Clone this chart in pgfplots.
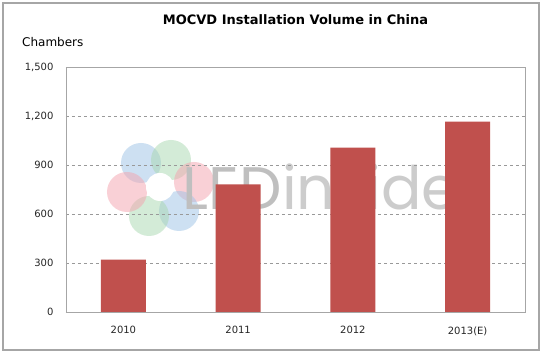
\documentclass[border=0pt]{standalone}
\usepackage{pgfplots}
\pgfplotsset{compat=1.18}
\usepackage{fontspec}
\setmainfont{DejaVu Sans}
\newfontfamily\logofont{Poppins}
\definecolor{barred}{HTML}{C0504D}
\definecolor{frame}{HTML}{A6A6A6}
\definecolor{pblue}{HTML}{9DC3E6}
\definecolor{pgreen}{HTML}{A9D8B0}
\definecolor{pred}{HTML}{F4A3AE}
\begin{document}
\begin{tikzpicture}[x=1pt,y=1pt]
\fill[white] (-66,-41) rectangle (476,312);
\draw[frame, line width=1.5pt] (-63,-38) rectangle (473,309);
% watermark logo
\begin{scope}[opacity=0.5]
\fill[pblue]   (75,149) circle (20);
\fill[pgreen]  (105,152) circle (20);
\fill[pred]    (128,130) circle (20);
\fill[pblue]   (113,101) circle (20);
\fill[pgreen]  (83,96) circle (20);
\fill[pred]    (61,120) circle (20);
\end{scope}
\fill[white] (94,125) circle (14);
\node[font=\logofont\fontsize{60}{60}\selectfont, text=gray!50, inner sep=0pt] at (255,125) {LED\textcolor{gray!40}{inside}};
\begin{axis}[
  at={(0,0)}, anchor=south west,
  scale only axis, width=459pt, height=245pt,
  xmin=-0.5, xmax=3.5, ymin=0, ymax=1500,
  ybar, bar width=45pt,
  xtick={0,1,2,3}, xticklabels={2010,2011,2012,2013(E)},
  ytick={0,300,600,900,1200,1500},
  ymajorgrids, grid style={dashed, gray!80, line width=0.6pt},
  axis line style={frame, line width=0.8pt},
  major tick length=0pt,
  tick label style={font=\fontsize{10}{11}\selectfont, text=black!85},
  /pgf/number format/assume math mode=true,
  /pgf/number format/1000 sep={,},
  yticklabel style={xshift=-9pt},
  xticklabel style={yshift=-11pt},
]
\addplot[fill=barred, draw=none] coordinates {(0,320) (1,782) (2,1006) (3,1165)};
\end{axis}
\node[font=\bfseries\fontsize{13}{15}\selectfont] at (229.5,292) {MOCVD Installation Volume in China};
\node[anchor=west, font=\fontsize{12}{14}\selectfont, inner sep=0pt] at (-44,270) {Chambers};
\end{tikzpicture}
\end{document}
